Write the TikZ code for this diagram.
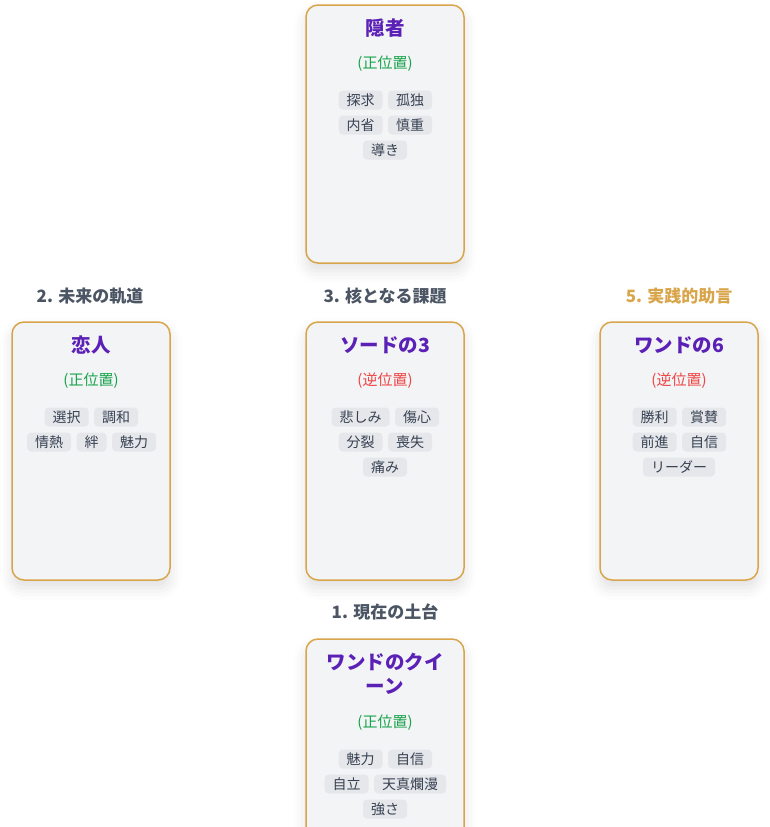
\documentclass[tikz,border=0pt]{standalone}
\usepackage{fontspec}
\setmainfont{Noto Sans CJK JP}
\usepackage{tikz}
\usetikzlibrary{positioning,shadows.blur}
\definecolor{cardline}{HTML}{D9A54B}
\definecolor{cardbg}{HTML}{F3F4F6}
\definecolor{tagbg}{HTML}{E5E7EB}
\definecolor{tagtext}{HTML}{374151}
\definecolor{purple}{HTML}{5B21B6}
\definecolor{upright}{HTML}{16A34A}
\definecolor{reversed}{HTML}{EF4444}
\definecolor{slotgray}{HTML}{4B5563}
\definecolor{advice}{HTML}{D9A54B}

\begin{document}
\begin{tikzpicture}[
  x=1pt,y=-1pt,
  card/.style={rectangle,draw=cardline,line width=1.5pt,fill=cardbg,rounded corners=12pt,
    minimum width=158pt,minimum height=258pt,
    blur shadow={shadow xshift=0pt,shadow yshift=-8pt,shadow blur radius=12pt,shadow opacity=12}},
  cname/.style={font=\fontsize{19.5}{24}\selectfont\bfseries,text=purple,align=center},
  up/.style={font=\fontsize{15}{16}\selectfont,text=upright},
  rev/.style={font=\fontsize{15}{16}\selectfont,text=reversed},
  tagbox/.style={fill=tagbg,rounded corners=4pt,text=tagtext,font=\fontsize{14}{16}\selectfont,
    inner xsep=8pt,inner ysep=0pt,minimum height=19pt},
  slot/.style={font=\fontsize{17}{18}\selectfont\bfseries,text=slotgray}
]
  \clip (0,0) rectangle (770,827);
  \useasboundingbox (0,0) rectangle (770,827);

  % cards
  \node[card] (hermit) at (385,134) {};
  \node[card] (lovers) at (91,451) {};
  \node[card] (swords) at (385,451) {};
  \node[card] (wands6) at (679,451) {};
  \node[card] (queen) at (385,768) {};

  % slot labels
  \node[slot] (s2) at (90,296) {2. 未来の軌道};
  \node[slot] (s3) at (385,296) {3. 核となる課題};
  \node[slot,text=advice] (s5) at (679,296) {5. 実践的助言};
  \node[slot] (s1) at (385,612) {1. 現在の土台};

  % hermit
  \node[cname] (t1) at (385,28) {隠者};
  \node[up] (o1) at (385,64) {(正位置)};
  \node[tagbox,anchor=west] (k11) at (338.5,100) {探求};
  \node[tagbox,right=5pt of k11] (k12) {孤独};
  \node[tagbox,anchor=west] (k13) at (338.5,125) {内省};
  \node[tagbox,right=5pt of k13] (k14) {慎重};
  \node[tagbox] (k15) at (385,150) {導き};

  % lovers
  \node[cname] (t2) at (91,345) {恋人};
  \node[up] (o2) at (91,381) {(正位置)};
  \node[tagbox,anchor=west] (k21) at (44.5,417) {選択};
  \node[tagbox,right=5pt of k21] (k22) {調和};
  \node[tagbox,anchor=west] (k23) at (27,442) {情熱};
  \node[tagbox,right=5pt of k23] (k24) {絆};
  \node[tagbox,right=5pt of k24] (k25) {魅力};

  % three of swords
  \node[cname] (t3) at (385,345) {ソードの3};
  \node[rev] (o3) at (385,381) {(逆位置)};
  \node[tagbox,anchor=west] (k31) at (331.5,417) {悲しみ};
  \node[tagbox,right=5pt of k31] (k32) {傷心};
  \node[tagbox,anchor=west] (k33) at (338.5,442) {分裂};
  \node[tagbox,right=5pt of k33] (k34) {喪失};
  \node[tagbox] (k35) at (385,467) {痛み};

  % six of wands
  \node[cname] (t5) at (679,345) {ワンドの6};
  \node[rev] (o5) at (679,381) {(逆位置)};
  \node[tagbox,anchor=west] (k51) at (632.5,417) {勝利};
  \node[tagbox,right=5pt of k51] (k52) {賞賛};
  \node[tagbox,anchor=west] (k53) at (632.5,442) {前進};
  \node[tagbox,right=5pt of k53] (k54) {自信};
  \node[tagbox] (k55) at (679,467) {リーダー};

  % queen of wands
  \node[cname] (t4) at (385,674) {ワンドのクイ\\ーン};
  \node[up] (o4) at (385,723) {(正位置)};
  \node[tagbox,anchor=west] (k41) at (338.5,759) {魅力};
  \node[tagbox,right=5pt of k41] (k42) {自信};
  \node[tagbox,anchor=west] (k43) at (324.5,784) {自立};
  \node[tagbox,right=5pt of k43] (k44) {天真爛漫};
  \node[tagbox] (k45) at (385,809) {強さ};
\end{tikzpicture}
\end{document}
